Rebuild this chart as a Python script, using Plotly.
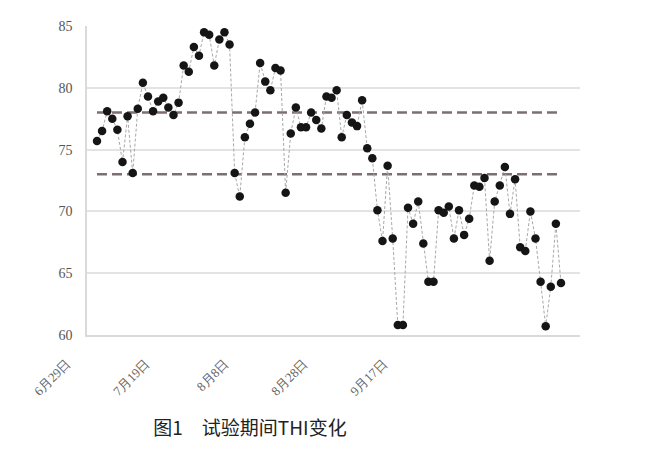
import plotly.graph_objects as go

# ---- data ----
sample_index = list(range(92))
thi_values = [
    75.7, 76.5, 78.1, 77.5, 76.6, 74.0, 77.7, 73.1, 78.3, 80.4,
    79.3, 78.1, 78.9, 79.2, 78.4, 77.8, 78.8, 81.8, 81.3, 83.3,
    82.6, 84.5, 84.3, 81.8, 83.9, 84.5, 83.5, 73.1, 71.2, 76.0,
    77.1, 78.0, 82.0, 80.5, 79.8, 81.6, 81.4, 71.5, 76.3, 78.4,
    76.8, 76.8, 78.0, 77.4, 76.7, 79.3, 79.2, 79.8, 76.0, 77.8,
    77.2, 76.9, 79.0, 75.1, 74.3, 70.1, 67.6, 73.7, 67.8, 60.8,
    60.8, 70.3, 69.0, 70.8, 67.4, 64.3, 64.3, 70.1, 69.9, 70.4,
    67.8, 70.1, 68.1, 69.4, 72.1, 72.0, 72.7, 66.0, 70.8, 72.1,
    73.6, 69.8, 72.6, 67.1, 66.8, 70.0, 67.8, 64.3, 60.7, 63.9,
    69.0, 64.2,
]
threshold_values = [78, 73]
date_labels = ["6月29日", "7月19日", "8月8日", "8月28日", "9月17日"]
date_label_index = [0, 15.5, 31, 46.5, 62]
y_ticks = [60, 65, 70, 75, 80, 85]
title_text = "图1　试验期间THI变化"

fig = go.Figure()
for th in threshold_values:
    fig.add_trace(go.Scatter(
        x=[sample_index[0], sample_index[-1]], y=[th, th], mode="lines",
        line=dict(color="#7d6f6f", width=2.4, dash="10px,5px"),
        hoverinfo="skip", showlegend=False))

fig.add_trace(go.Scatter(
    x=sample_index, y=thi_values, mode="lines+markers",
    line=dict(color="#a8a8a8", width=1, dash="3px,2px"),
    marker=dict(color="#151515", size=8.5),
    showlegend=False))

fig.update_layout(
    width=652, height=446,
    margin=dict(l=79, r=80, t=18, b=119),
    plot_bgcolor="white", paper_bgcolor="white",
    showlegend=False,
    xaxis=dict(
        range=[-1.96, 94.73], tickmode="array",
        tickvals=date_label_index, ticktext=date_labels,
        tickangle=-45, ticklabelshift=-30, ticklabelstandoff=14,
        showgrid=False, zeroline=False, ticks="",
        showline=True, linecolor="#dadada", linewidth=1.5,
        tickfont=dict(family="Liberation Serif", size=13, color="#666666")),
    yaxis=dict(
        range=[60, 85], tickmode="array", tickvals=y_ticks,
        showgrid=True, gridcolor="#e3e3e3", gridwidth=1.5,
        showline=True, linecolor="#dadada", linewidth=1.5,
        zeroline=False, ticks="", ticklabelstandoff=10,
        tickfont=dict(family="Liberation Serif", size=14, color="#555555")),
    title=dict(text=title_text, x=242 / 652, xanchor="center",
               y=1 - 420 / 446, yanchor="middle", yref="container",
               font=dict(family="Noto Sans CJK SC", size=19, color="#222222")),
)

fig.write_html("out.html")
